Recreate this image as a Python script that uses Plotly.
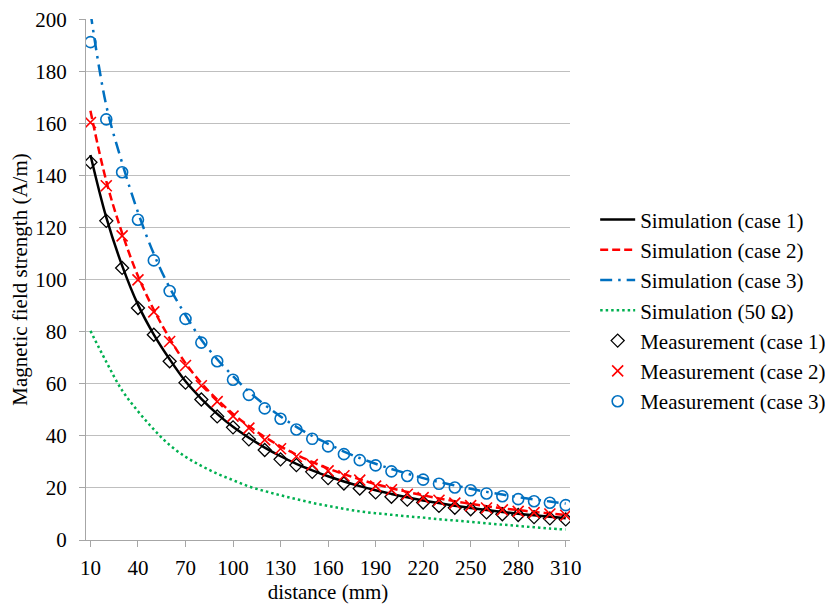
import plotly.graph_objects as go

distance = list(range(10, 320, 10))

sim_case1 = [148, 124, 105.5, 90.5, 79, 69.5, 61, 54.3, 48.5, 43.5, 39.3, 35.5, 32.2, 29.3,
             26.8, 24.5, 22.5, 20.7, 19.1, 17.7, 16.4, 15.2, 14.2, 13.2, 12.3, 11.5, 10.8,
             10.1, 9.5, 8.9, 8.4]
sim_case2 = [165, 138, 118, 101.5, 88.5, 77.5, 68, 60.3, 54, 48.5, 43.8, 39.6, 36, 32.8,
             30, 27.5, 25.3, 23.3, 21.5, 19.9, 18.5, 17.2, 16, 14.9, 13.9, 13, 12.2,
             11.5, 10.8, 10.2, 9.6]
sim_case3 = [203, 167, 145, 126, 110, 97, 86.5, 77, 69.5, 63, 57, 52, 47.5, 43.5,
             40, 37, 34, 31.5, 29.3, 27.3, 25.5, 23.8, 22.3, 21, 19.7, 18.5, 17.5,
             16.5, 15.6, 14.8, 14]
sim_50ohm = [80.4, 68.5, 57.5, 49.5, 42.5, 36.5, 32, 28.5, 25.5, 23, 20.6, 18.8, 17.2, 15.7,
             14.3, 13.1, 12.0, 11.0, 10.3, 9.7, 9.1, 8.6, 8.0, 7.5, 7.0, 6.4, 5.9,
             5.4, 4.9, 4.4, 4.0]
meas_case1 = [145.2, 122.7, 104.6, 89.2, 78.9, 68.7, 60.5, 54, 47.5, 43.3, 38.7, 34.6, 31.0,
              28.8, 26.2, 23.8, 21.7, 19.8, 18.3, 16.6, 15.5, 14.4, 13.1, 12.4, 11.8, 10.6,
              9.9, 9.6, 8.8, 8.3, 7.9]
meas_case2 = [160.5, 136.2, 116.9, 100.0, 87.7, 76.3, 67.1, 59.3, 53.2, 47.6, 43.0, 38.5, 35.1,
              32.1, 29.0, 26.6, 24.7, 23.0, 20.7, 19.3, 17.6, 16.3, 15.3, 14.2, 13.2, 12.3,
              11.6, 11.0, 10.5, 10.0, 9.5]
meas_case3 = [191.4, 161.7, 141.4, 123.1, 107.5, 95.7, 85.0, 75.9, 68.7, 61.6, 55.8, 50.6, 46.6,
              42.5, 38.9, 36.0, 33.0, 30.7, 28.7, 26.4, 24.6, 23.2, 21.6, 20.2, 19.1, 17.9,
              16.8, 15.7, 14.9, 14.3, 13.4]

x_ticks = list(range(10, 320, 30))
y_ticks = list(range(0, 220, 20))

FONT = "Liberation Serif, Times New Roman, serif"

fig = go.Figure()

fig.add_trace(go.Scatter(x=distance, y=sim_case1, mode="lines", name="Simulation (case 1)",
                         line=dict(color="black", width=2.5, shape="spline")))
fig.add_trace(go.Scatter(x=distance, y=sim_case2, mode="lines", name="Simulation (case 2)",
                         line=dict(color="#ff0000", width=2.5, dash="8px,4px", shape="spline")))
fig.add_trace(go.Scatter(x=distance, y=sim_case3, mode="lines", name="Simulation (case 3)",
                         line=dict(color="#0070c0", width=2.5, dash="12px,6px,2.5px,6px", shape="spline")))
fig.add_trace(go.Scatter(x=distance, y=sim_50ohm, mode="lines", name="Simulation (50 \u03a9)",
                         line=dict(color="#00b050", width=2.5, dash="2.5px,3px", shape="spline")))
fig.add_trace(go.Scatter(x=distance, y=meas_case1, mode="markers", name="Measurement (case 1)",
                         marker=dict(symbol="diamond-open", size=10, color="black",
                                     line=dict(width=1.3, color="black"))))
fig.add_trace(go.Scatter(x=distance, y=meas_case2, mode="markers", name="Measurement (case 2)",
                         marker=dict(symbol="x-thin-open", size=11, color="#ff0000",
                                     line=dict(width=1.6, color="#ff0000"))))
fig.add_trace(go.Scatter(x=distance, y=meas_case3, mode="markers", name="Measurement (case 3)",
                         marker=dict(symbol="circle-open", size=11, color="#0070c0",
                                     line=dict(width=1.6, color="#0070c0"))))

fig.update_layout(
    width=825, height=599,
    margin=dict(l=78, r=263, t=11, b=67, autoexpand=False),
    paper_bgcolor="white", plot_bgcolor="white",
    font=dict(family=FONT, size=21, color="black"),
    legend=dict(x=1.052, xanchor="left", y=0.44, yanchor="middle",
                font=dict(family=FONT, size=21, color="black"),
                itemwidth=35,
                bgcolor="rgba(0,0,0,0)", tracegroupgap=0),
    xaxis=dict(range=[7.2, 312.7], tickvals=x_ticks, ticktext=[str(v) for v in x_ticks],
               showgrid=False, showline=True, linecolor="#a6a6a6", linewidth=1.2,
               ticks="outside", ticklen=6, tickcolor="#a6a6a6", zeroline=False,
               tickfont=dict(size=21), automargin=False, ticklabelstandoff=3,
               title=dict(text="distance (mm)", standoff=4, font=dict(size=21))),
    yaxis=dict(range=[0, 200.3], tickvals=y_ticks, showgrid=True, gridcolor="#bfbfbf",
               gridwidth=1.2, showline=True, linecolor="#a6a6a6", linewidth=1.2,
               ticks="outside", ticklen=6, tickcolor="#a6a6a6", zeroline=False,
               ticklabelstandoff=8, tickfont=dict(size=21), automargin=False,
               ticklabeloverflow="allow",
               title=dict(text="Magnetic field strength (A/m)", standoff=8, font=dict(size=21))),
)

fig.write_html("out.html")
